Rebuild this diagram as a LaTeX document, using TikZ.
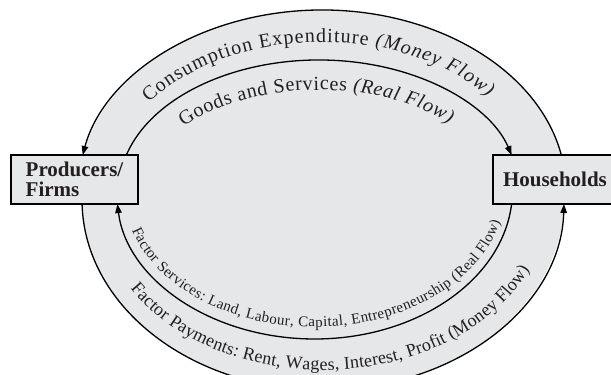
\documentclass[tikz,border=0pt]{standalone}
\usepackage{fontspec}
\setmainfont{Liberation Serif}
\usetikzlibrary{arrows.meta,decorations.text,calc}
\definecolor{ringgray}{RGB}{230,231,232}
\definecolor{inkcol}{RGB}{35,31,32}
\newcommand\mytopfont{\fontsize{20}{22}\selectfont}
\newcommand\myfsfont{\fontsize{15}{17}\selectfont}
\newcommand\myfpfont{\fontsize{18}{20}\selectfont}
\newcommand\myboxfont{\fontsize{21}{20}\selectfont\bfseries}
\begin{document}
\begin{tikzpicture}[x=1pt,y=1pt,
  flow/.style={line width=1.3pt, draw=black, -{Triangle[length=9pt,width=6.5pt]}},
  box/.style={draw=black, line width=1.2pt, fill=ringgray, minimum width=127pt,
    minimum height=49pt, align=left, inner sep=0pt, font=\myboxfont, text=inkcol},
  lbl/.style={decorate, decoration={text along path, text align={fit to path}, text color=inkcol}}]
\useasboundingbox (0,0) rectangle (611,375);
\fill[white] (0,0) rectangle (611,375);
\clip (0,0) rectangle (611,375);
% shaded region
\fill[ringgray] ($(322,185)+(11.2:244pt and 180pt)$)
  arc[start angle=11.2, end angle=168.8, x radius=244pt, y radius=180pt]
  -- ($(323,175)+(181.2:241pt and 190pt)$)
  arc[start angle=181.2, end angle=358.8, x radius=241pt, y radius=190pt] -- cycle;
% boxes
\node[box] (firms) at (74.5,195.5) {Producers/\\Firms};
\node[box, text width=107pt, inner xsep=10pt, minimum width=0pt] (hh) at (556.5,195.5) {Households};
% connector start points
\coordinate (ot) at ($(322,185)+(11.2:244pt and 180pt)$);
\coordinate (it) at ($(319,185)+(164.4:200pt and 130pt)$);
\coordinate (ib) at ($(314.5,185)+(354.6:198pt and 149pt)$);
\coordinate (ob) at ($(323,175)+(181.2:241pt and 190pt)$);
% flows
\draw[flow] (ot) arc[start angle=11.2, end angle=168.8, x radius=244pt, y radius=180pt];
\draw[flow] (it) arc[start angle=164.4, end angle=15.6, x radius=200pt, y radius=130pt];
\draw[flow] (ib) arc[start angle=354.6, end angle=185.4, x radius=198pt, y radius=149pt];
\draw[flow] (ob) arc[start angle=181.2, end angle=358.8, x radius=241pt, y radius=190pt];
% labels along the flows
\path[lbl, decoration={text={|\mytopfont|Consumption Expenditure |\mytopfont\itshape|(Money Flow)}}]
  ($(322,185)+(144:214pt and 148pt)$) arc[start angle=144, end angle=39, x radius=214pt, y radius=148pt];
\path[lbl, decoration={text={|\mytopfont|Goods and Services |\mytopfont\itshape|(Real Flow)}}]
  ($(319,185)+(141:174pt and 100pt)$) arc[start angle=141, end angle=41.5, x radius=174pt, y radius=100pt];
\path[lbl, decoration={text={|\myfsfont|Factor Services: Land, Labour, Capital, Entrepreneurship (Real Flow)}}]
  ($(314.5,185)+(197:191pt and 137pt)$) arc[start angle=197, end angle=346.5, x radius=191pt, y radius=137pt];
\path[lbl, decoration={text={|\myfpfont|Factor Payments: Rent, Wages, Interest, Profit (Money Flow)}}]
  ($(323,175)+(211.5:226pt and 170pt)$) arc[start angle=211.5, end angle=336, x radius=226pt, y radius=170pt];
\end{tikzpicture}
\end{document}
